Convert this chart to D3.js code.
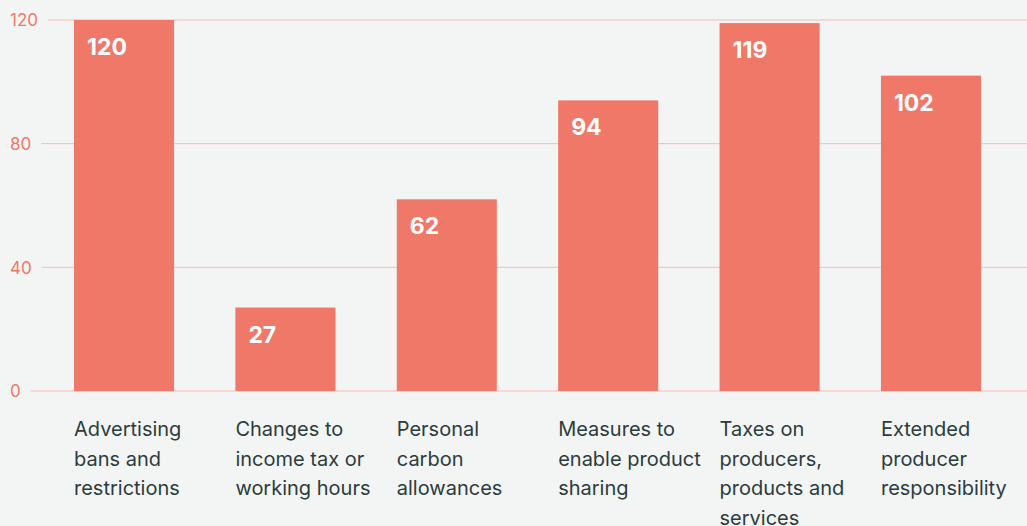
<!DOCTYPE html>
<html>
<head>
<meta charset="utf-8">
<script src="https://cdn.jsdelivr.net/npm/d3@7"></script>
<style>
  body { margin: 0; background: #f3f5f4; }
  svg { display: block; font-family: Inter, "Noto Sans", sans-serif; }
</style>
</head>
<body>
<div id="chart"></div>
<script>
const categories = [
    ['Advertising', 'bans and', 'restrictions'],
    ['Changes to', 'income tax or', 'working hours'],
    ['Personal', 'carbon', 'allowances'],
    ['Measures to', 'enable product', 'sharing'],
    ['Taxes on', 'producers,', 'products and', 'services'],
    ['Extended', 'producer', 'responsibility']
];
const values = [120, 27, 62, 94, 119, 102];
const yTicks = [0, 40, 80, 120];

const width = 1027;
const height = 526;
const barColor = '#ef7869';

const svg = d3.select('#chart')
    .append('svg')
    .attr('width', width)
    .attr('height', height);

svg.append('rect')
    .attr('width', width)
    .attr('height', height)
    .attr('fill', '#f3f5f4');

const x = d3.scaleBand()
    .domain(d3.range(categories.length))
    .range([74, 981])
    .paddingInner(0.38)
    .paddingOuter(0);

const y = d3.scaleLinear()
    .domain([0, 120])
    .range([391, 20]);

// gridlines + tick labels
const ticks = svg.append('g').selectAll('g')
    .data(yTicks)
    .enter()
    .append('g');

ticks.append('text')
    .attr('x', 10)
    .attr('y', d => y(d))
    .attr('dy', '0.38em')
    .attr('fill', barColor)
    .style('font-size', '17px')
    .text(d => d);

ticks.each(function(d) {
    const t = d3.select(this).select('text').node();
    const end = 10 + t.getComputedTextLength() + 10;
    d3.select(this).insert('line', 'text')
        .attr('x1', end)
        .attr('x2', width)
        .attr('y1', y(d))
        .attr('y2', y(d))
        .attr('stroke', '#f7bbb1')
        .attr('stroke-width', 1);
});

// bars
svg.selectAll('rect.bar')
    .data(values)
    .enter()
    .append('rect')
    .attr('class', 'bar')
    .attr('x', (d, i) => x(i))
    .attr('y', d => y(d))
    .attr('width', x.bandwidth())
    .attr('height', d => y(0) - y(d))
    .attr('fill', barColor);

// value labels
svg.selectAll('text.value')
    .data(values)
    .enter()
    .append('text')
    .attr('class', 'value')
    .attr('x', (d, i) => x(i) + 13)
    .attr('y', d => y(d) + 35)
    .attr('fill', '#fff')
    .style('font-size', '23px')
    .style('font-weight', 700)
    .text(d => d);

// category labels
const cat = svg.selectAll('text.cat')
    .data(categories)
    .enter()
    .append('text')
    .attr('class', 'cat')
    .attr('x', (d, i) => x(i))
    .attr('y', 436)
    .attr('fill', '#2b3c3d')
    .style('font-size', '20px');

cat.selectAll('tspan')
    .data(d => d)
    .enter()
    .append('tspan')
    .attr('x', function() { return d3.select(this.parentNode).attr('x'); })
    .attr('dy', (d, i) => i === 0 ? 0 : 29.5)
    .text(d => d);
</script>
</body>
</html>
